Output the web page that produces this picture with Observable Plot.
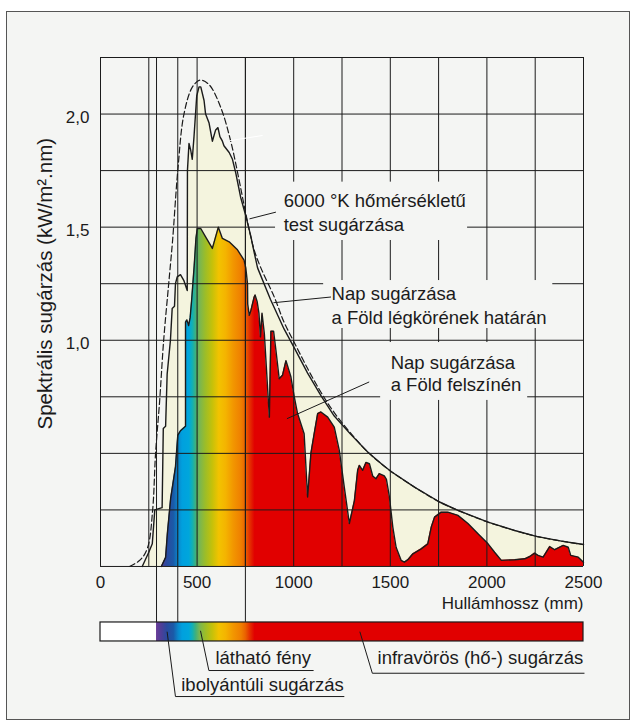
<!DOCTYPE html>
<html><head><meta charset="utf-8">
<script src="https://cdn.jsdelivr.net/npm/d3@7"></script>
<script src="https://cdn.jsdelivr.net/npm/@observablehq/plot@0.6"></script>
<style>
html,body{margin:0;padding:0;background:#fff;}
#wrap{position:relative;width:634px;height:728px;overflow:hidden;}
#frame{position:absolute;left:6px;top:11px;width:624px;height:709px;border:1px solid #555;background:#f4f5f3;box-sizing:border-box;}
#chart{position:absolute;left:0;top:0;}
</style></head><body>
<div id="wrap"><div id="frame"></div><div id="chart"></div></div>
<script>
// ---- data (wavelength nm, spectral irradiance kW/m².nm) ----
const blackBody6000K = [
  [150,0],[207,0.03],[244,0.084],[270,0.25],[285,0.50],[306,0.73],[327,1.00],[353,1.25],[373,1.44],
  [400,1.75],[432,2.00],[476,2.12],[515,2.15],[562,2.13],[622,2.03],[674,1.88],[717,1.71],[752,1.56],
  [795,1.40],[830,1.32],[900,1.19],[950,1.08],[1003,0.99],[1072,0.875],[1141,0.77],[1210,0.68],
  [1294,0.59],[1383,0.506],[1452,0.455],[1504,0.42],[1625,0.351],[1755,0.285],[1850,0.248],
  [2006,0.196],[2144,0.159],[2256,0.133],[2386,0.112],[2500,0.097]
];
const topOfAtmosphere = [
  [216,0],[250,0.063],[268,0.10],[281,0.25],[319,0.26],[325,0.61],[337,0.62],[345,0.85],[362,1.00],
  [371,1.14],[383,1.15],[388,1.25],[397,1.28],[414,1.29],[431,1.265],[449,1.22],[450,1.75],[458,1.87],
  [467,1.84],[475,1.80],[484,1.90],[498,2.08],[510,2.12],[519,2.12],[536,2.06],[544,2.00],[562,1.96],
  [579,1.88],[596,1.93],[608,1.94],[618,1.90],[631,1.88],[639,1.86],[666,1.83],[683,1.80],[700,1.74],
  [726,1.63],[752,1.55],[778,1.46],[795,1.39],[813,1.32],[880,1.18],[950,1.05],[1001,0.97],
  [1072,0.855],[1141,0.755],[1210,0.665],[1294,0.585],[1383,0.506],[1452,0.455],[1504,0.42],
  [1625,0.351],[1755,0.285],[1850,0.248],[2006,0.196],[2144,0.159],[2256,0.133],[2386,0.112],[2500,0.097]
];
const earthSurface = [
  [315,0],[337,0.04],[346,0.145],[363,0.30],[388,0.44],[400,0.58],[414,0.60],[440,0.62],[440,1.08],
  [447,1.09],[456,1.065],[464,1.10],[472,1.18],[485,1.33],[494,1.45],[501,1.494],[519,1.494],[544,1.457],
  [579,1.406],[610,1.50],[631,1.45],[666,1.435],[709,1.40],[743,1.354],[752,1.32],[761,1.25],[762,1.16],
  [770,1.11],[778,1.13],[795,1.19],[800,1.20],[811,1.17],[820,1.12],[828,1.015],[836,1.12],[848,1.03],
  [874,0.66],[882,1.04],[896,1.04],[908,0.956],[925,0.83],[942,0.845],[960,0.91],[985,0.84],[1003,0.75],
  [1020,0.676],[1054,0.587],[1072,0.307],[1089,0.50],[1106,0.587],[1124,0.676],[1141,0.683],[1176,0.66],
  [1210,0.616],[1236,0.513],[1262,0.35],[1288,0.19],[1314,0.29],[1331,0.425],[1340,0.447],[1357,0.425],
  [1374,0.46],[1392,0.454],[1409,0.40],[1426,0.388],[1443,0.41],[1469,0.40],[1480,0.385],[1495,0.31],
  [1513,0.174],[1530,0.085],[1556,0.027],[1573,0.019],[1591,0.03],[1617,0.056],[1660,0.078],[1694,0.10],
  [1712,0.174],[1729,0.218],[1763,0.24],[1798,0.24],[1850,0.226],[1902,0.19],[1954,0.145],[2006,0.10],
  [2040,0.063],[2075,0.027],[2144,0.03],[2196,0.034],[2222,0.044],[2247,0.059],[2265,0.049],[2291,0.041],
  [2325,0.088],[2351,0.074],[2395,0.093],[2421,0.085],[2434,0.049],[2473,0.041],[2500,0.019]
];
const xTickValues = [0, 500, 1000, 1500, 2000, 2500];
const xTickLabels = ["0", "500", "1000", "1500", "2000", "2500"];
const yTickValues = [1.0, 1.5, 2.0];
const yTickLabels = ["1,0", "1,5", "2,0"];
const bandEdges = [290, 400, 750];          // UV | visible | IR boundaries (nm)
const xTitle = "Hullámhossz (mm)";
const yTitle = "Spektrális sugárzás (kW/m².nm)";
const curveLabels = [
  {text: "6000 °K hőmérsékletű", nm: 948, v: 1.587},
  {text: "test sugárzása", nm: 948, v: 1.485},
  {text: "Nap sugárzása", nm: 1196, v: 1.176},
  {text: "a Föld légkörének határán", nm: 1196, v: 1.074},
  {text: "Nap sugárzása", nm: 1502, v: 0.875},
  {text: "a Föld felszínén", nm: 1502, v: 0.774}
];
const labelBoxes = [
  {x1: 906, x2: 1900, y1: 1.441, y2: 1.699},
  {x1: 1155, x2: 2341, y1: 1.052, y2: 1.264},
  {x1: 1450, x2: 2211, y1: 0.734, y2: 0.990}
];
const bandLabels = [
  {text: "látható fény", nm: 595, v: -0.433},
  {text: "infravörös (hő-) sugárzás", nm: 1434, v: -0.433},
  {text: "ibolyántúli sugárzás", nm: 418, v: -0.551}
];
const leaderLines = [
  {id: "bb", pts: [[773,1.537],[906,1.566]]},
  {id: "toa", pts: [[897,1.166],[1191,1.191]]},
  {id: "surf", pts: [[967,0.654],[1389,0.815]]},
  {id: "vis", pts: [[518,-0.286],[561,-0.460],[1101,-0.460]]},
  {id: "ir", pts: [[1343,-0.290],[1407,-0.472],[2503,-0.472]]},
  {id: "uv", pts: [[345,-0.290],[388,-0.575],[1260,-0.575]]}
];
const whiteStroke = [[673,1.883],[837,1.905]];

// ---- styling constants ----
const ink = "#1b1b1b", panel = "#f4f5f3", cream = "#f4f4de";
const font = "'Liberation Sans', Arial, Helvetica, sans-serif";
const FS = 17, LFS = 18.5, TFS = 20.5;
const BAR_TOP = -0.2476, BAR_BOTTOM = -0.3316;
const spectrumStops = [
  [290,"#6a3c98"],[320,"#4a3f98"],[345,"#2a4a9e"],[380,"#1a5aa8"],[405,"#0a88cc"],[425,"#00a0de"],
  [460,"#00a6dc"],[478,"#12b0b4"],[495,"#40b07c"],[515,"#78b652"],[545,"#9cbd28"],[580,"#c4c10a"],
  [615,"#f2c300"],[650,"#f4b400"],[690,"#f29600"],[730,"#ef7f00"],[752,"#ea6200"],[775,"#e43000"],[800,"#e10000"]
];

const toRows = a => a.map(([nm, v]) => ({nm, v}));
const bb = toRows(blackBody6000K), toa = toRows(topOfAtmosphere), surf = toRows(earthSurface);
const leaders = leaderLines.flatMap(l => l.pts.map(([nm, v]) => ({id: l.id, nm, v})));
const gridX = d3.range(0, 2501, 250);
const gridY = d3.range(0, 2.2501, 0.25);

const chart = Plot.plot({
  width: 634, height: 728,
  marginLeft: 100, marginRight: 51, marginTop: 57, marginBottom: 15,
  x: {domain: [0, 2500], axis: null},
  y: {domain: [-0.65, 2.25], axis: null},
  style: {background: "transparent", fontFamily: font, fontSize: FS + "px", color: ink, overflow: "visible"},
  marks: [
    Plot.areaY(toa, {x: "nm", y1: 0, y2: "v", fill: cream}),
    Plot.areaY(surf, {x: "nm", y1: 0, y2: "v", fill: "url(#spectrum)"}),
    Plot.ruleX(gridX, {y1: 0, y2: 2.25, stroke: ink, strokeWidth: 1}),
    Plot.ruleY(gridY, {x1: 0, x2: 2500, stroke: ink, strokeWidth: 1}),
    Plot.ruleX(bandEdges, {y1: BAR_TOP, y2: 2.25, stroke: ink, strokeWidth: 1}),
    Plot.rect(labelBoxes, {x1: "x1", x2: "x2", y1: "y1", y2: "y2", fill: panel}),
    Plot.line(toa, {x: "nm", y: "v", stroke: ink, strokeWidth: 1.4}),
    Plot.line(surf, {x: "nm", y: "v", stroke: ink, strokeWidth: 1.4}),
    Plot.line(bb, {x: "nm", y: "v", stroke: ink, strokeWidth: 1.2, strokeDasharray: "6,3", curve: "catmull-rom"}),
    Plot.line(toRows(whiteStroke), {x: "nm", y: "v", stroke: "#fff", strokeWidth: 1}),
    // spectrum bar
    Plot.rect([{a: 0, b: bandEdges[0]}], {x1: "a", x2: "b", y1: BAR_BOTTOM, y2: BAR_TOP, fill: "#fff"}),
    Plot.rect([{a: bandEdges[0], b: 2500}], {x1: "a", x2: "b", y1: BAR_BOTTOM, y2: BAR_TOP, fill: "url(#spectrum)"}),
    Plot.rect([{a: 0, b: 2500}], {x1: "a", x2: "b", y1: BAR_BOTTOM, y2: BAR_TOP, fill: "none", stroke: ink, strokeWidth: 1.2}),
    Plot.line(leaders, {x: "nm", y: "v", z: "id", stroke: ink, strokeWidth: 1}),
    // text
    Plot.text(curveLabels, {x: "nm", y: "v", text: "text", textAnchor: "start", lineAnchor: "bottom", fill: ink, fontSize: LFS}),
    Plot.text(bandLabels, {x: "nm", y: "v", text: "text", textAnchor: "start", lineAnchor: "bottom", fill: ink, fontSize: LFS}),
    Plot.text(xTickValues, {x: d => d, y: 0, text: (d, i) => xTickLabels[i], lineAnchor: "bottom", dy: 22, fill: ink, fontSize: FS}),
    Plot.text([xTitle], {x: 2500, y: 0, text: d => d, textAnchor: "end", lineAnchor: "bottom", dy: 43, fill: ink, fontSize: FS}),
    Plot.text(yTickValues, {x: 0, y: d => d, text: (d, i) => yTickLabels[i], textAnchor: "end", lineAnchor: "middle", dx: -11, dy: 3, fill: ink, fontSize: FS}),
    Plot.text([yTitle], {x: 0, y: 1.25, text: d => d, rotate: -90, dx: -55, lineAnchor: "middle", fill: ink, fontSize: TFS})
  ]
});

// gradient definition positioned through the plot's own x scale
const xs = chart.scale("x");
const lo = spectrumStops[0][0], hi = spectrumStops[spectrumStops.length - 1][0];
const defs = d3.select(chart).insert("defs", ":first-child");
const grad = defs.append("linearGradient").attr("id", "spectrum").attr("gradientUnits", "userSpaceOnUse")
  .attr("x1", xs.apply(lo)).attr("x2", xs.apply(hi)).attr("y1", 0).attr("y2", 0);
spectrumStops.forEach(([nm, c]) => grad.append("stop").attr("offset", (nm - lo) / (hi - lo)).attr("stop-color", c));

document.getElementById("chart").append(chart);
</script>
</body></html>
